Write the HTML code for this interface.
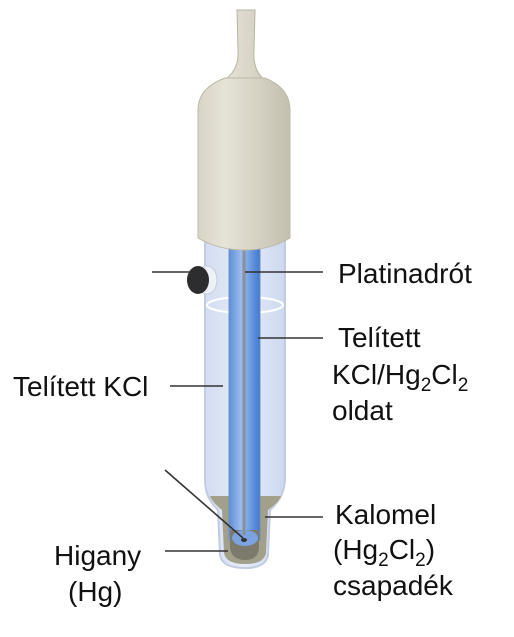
<!DOCTYPE html>
<html><head><meta charset="utf-8"><style>
body{margin:0;background:#fff;width:514px;height:632px;overflow:hidden}
svg text{font-family:"Liberation Sans",Arial,sans-serif;font-size:28px;fill:#111}
</style></head><body>
<svg width="514" height="632" viewBox="0 0 514 632">
<defs>
<linearGradient id="bulb" x1="0" x2="1"><stop offset="0" stop-color="#d8d4c6"/><stop offset="0.3" stop-color="#e6e3d8"/><stop offset="1" stop-color="#c4bfae"/></linearGradient>
<linearGradient id="glass" x1="0" x2="1"><stop offset="0" stop-color="#d3ddf1"/><stop offset="0.5" stop-color="#e6ecf8"/><stop offset="1" stop-color="#ccd8f0"/></linearGradient>
<linearGradient id="inner" x1="0" x2="1"><stop offset="0" stop-color="#5f8fd8"/><stop offset="0.4" stop-color="#9dbdef"/><stop offset="1" stop-color="#3f78d0"/></linearGradient>
</defs>
<g>
<path d="M237 10 L238 50 Q240 75 215 85 Q200 95 198 120 L290 120 Q288 95 272 85 Q252 75 254 50 L255 10 Z" fill="url(#bulb)" stroke="#b8b3a2"/>
</g>
<path d="M205 240 L205 480 Q205 498 218 510 L220 555 Q222 568 245 568 Q266 568 268 555 L270 510 Q284 498 285 480 L285 240 Z" fill="url(#glass)" stroke="#c2cce0" stroke-width="2"/>
<path d="M210 496 Q212 502 222 510 L224 553 Q226 564 245 564 Q264 564 266 553 L268 510 Q279 502 281 496 Z" fill="#a29f8b"/>
<ellipse cx="245" cy="305" rx="38" ry="8" fill="none" stroke="#fff" stroke-width="2"/>
<rect x="229" y="240" width="31" height="300" fill="url(#inner)" stroke="#6d8fc4"/>
<path d="M230 530 L230 548 Q232 560 245 560 Q258 560 259 548 L259 530 Z" fill="#7c7a6c"/>
<ellipse cx="245" cy="538" rx="13" ry="8" fill="#7aa3e0"/>
<ellipse cx="244" cy="540" rx="3" ry="2" fill="#333"/>
<line x1="244" y1="240" x2="244" y2="535" stroke="#8a8f9c" stroke-width="3"/>
<path d="M198 110 Q198 88 225 78 L265 78 Q290 88 290 110 L290 238 Q270 250 245 250 Q218 250 198 238 Z" fill="url(#bulb)" stroke="#bdb8a6"/>
<g>
<ellipse cx="207" cy="280" rx="10" ry="14" fill="#eef1f7" stroke="#c8ccd6"/>
<ellipse cx="198" cy="280" rx="11" ry="14" fill="#2d2d2f"/>
</g>
<g stroke="#333" stroke-width="1.6">
<line x1="152" y1="272" x2="190" y2="272"/>
<line x1="245" y1="272" x2="323" y2="272"/>
<line x1="258" y1="338" x2="323" y2="338"/>
<line x1="170" y1="386" x2="223" y2="386"/>
<line x1="165" y1="470" x2="243" y2="538"/>
<line x1="265" y1="517" x2="323" y2="517"/>
<line x1="165" y1="551" x2="228" y2="551"/>
</g>
<text x="338" y="283">Platinadrót</text>
<text x="338" y="347">Telített</text>
<text x="332" y="384">KCl/Hg<tspan font-size="19" dy="7">2</tspan><tspan dy="-7">Cl</tspan><tspan font-size="19" dy="7">2</tspan></text>
<text x="332" y="420">oldat</text>
<text x="13" y="396">Telített KCl</text>
<text x="335" y="524">Kalomel</text>
<text x="333" y="559">(Hg<tspan font-size="19" dy="7">2</tspan><tspan dy="-7">Cl</tspan><tspan font-size="19" dy="7">2</tspan><tspan dy="-7">)</tspan></text>
<text x="333" y="595">csapadék</text>
<text x="54" y="565">Higany</text>
<text x="68" y="601">(Hg)</text>
</svg>
</body></html>
